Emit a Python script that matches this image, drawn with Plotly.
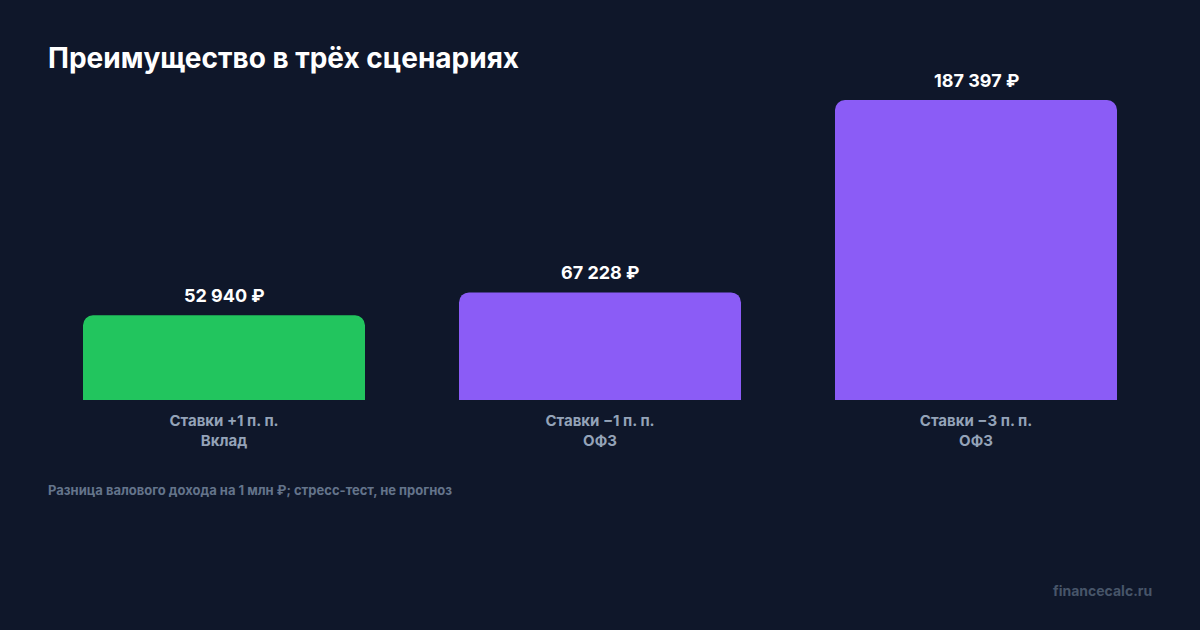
import plotly.graph_objects as go

categories = ["Ставки +1 п. п.<br>Вклад", "Ставки −1 п. п.<br>ОФЗ", "Ставки −3 п. п.<br>ОФЗ"]
values = [52940, 67228, 187397]
value_labels = ["52 940 ₽", "67 228 ₽", "187 397 ₽"]
bar_colors = ["#22c55e", "#8b5cf6", "#8b5cf6"]

BG = "#0f172a"
FONT = "Inter"

fig = go.Figure()

fig.add_trace(
    go.Bar(
        x=categories,
        y=values,
        marker={"color": bar_colors, "cornerradius": 10, "line": {"width": 0}},
        hoverinfo="skip",
    )
)

for cat, val, lab in zip(categories, values, value_labels):
    fig.add_annotation(
        x=cat,
        y=val,
        text=f"<b>{lab}</b>",
        showarrow=False,
        yanchor="bottom",
        yshift=7,
        font={"family": FONT, "size": 18, "color": "#ffffff"},
    )

# footnote
fig.add_annotation(
    xref="paper", yref="paper",
    x=0.0089, y=-0.273,
    xanchor="left", yanchor="middle",
    text="<b>Разница валового дохода на 1 млн ₽; стресс-тест, не прогноз</b>",
    showarrow=False,
    font={"family": FONT, "size": 13, "color": "#64748b"},
)

# watermark
fig.add_annotation(
    xref="paper", yref="paper",
    x=0.9911, y=-0.576,
    xanchor="right", yanchor="middle",
    text="<b>financecalc.ru</b>",
    showarrow=False,
    font={"family": FONT, "size": 14, "color": "#475569"},
)

fig.update_layout(
    width=1200,
    height=630,
    paper_bgcolor=BG,
    plot_bgcolor=BG,
    margin={"l": 36, "r": 36, "t": 70, "b": 230},
    bargap=0.25,
    showlegend=False,
    title={
        "text": "<b>Преимущество в трёх сценариях</b>",
        "x": 48 / 1200,
        "xanchor": "left",
        "y": 1 - 58 / 630,
        "yanchor": "middle",
        "font": {"family": FONT, "size": 28, "color": "#ffffff"},
    },
    xaxis={
        "showgrid": False,
        "zeroline": False,
        "showline": False,
        "ticks": "",
        "ticklabelstandoff": 10,
        "tickfont": {"family": FONT, "size": 15, "color": "#94a3b8", "weight": 700},
    },
    yaxis={
        "visible": False,
        "range": [0, max(values) * 1.1],
    },
)

fig.write_html(
    "out.html",
    config={"displayModeBar": False},
    post_script="document.body.style.margin='0';",
)
